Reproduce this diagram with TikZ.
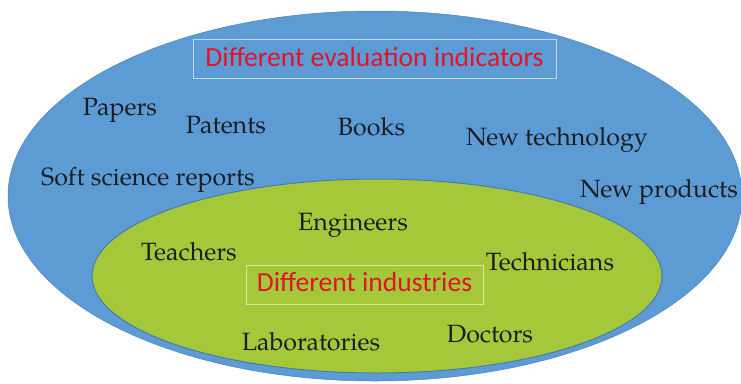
\documentclass[tikz,border=0pt]{standalone}
\usepackage{fontspec}
\setmainfont{TeX Gyre Pagella}
\newfontfamily\labfont{Carlito}
\definecolor{outerblue}{RGB}{93,155,213}
\definecolor{innergreen}{RGB}{164,200,58}
\definecolor{labred}{RGB}{226,20,40}
\definecolor{txt}{RGB}{25,30,35}
\tikzset{
  item/.style={text=txt, font=\fontsize{25}{27}\selectfont, inner sep=0pt, anchor=base},
  titlebox/.style={draw=white!60!outerblue, line width=1pt, text=labred, font=\labfont\fontsize{27.6}{29}\selectfont, inner xsep=0pt, inner ysep=0pt, anchor=base},
  titlebox2/.style={draw=white!55!innergreen, line width=1pt, text=labred, font=\labfont\fontsize{27.6}{29}\selectfont, inner xsep=0pt, inner ysep=0pt, anchor=base}
}
\begin{document}
\begin{tikzpicture}[x=1pt,y=-1pt]
\useasboundingbox (0,0) rectangle (741,383);
\fill[white] (0,0) rectangle (741,383);
\path[fill=outerblue, draw=outerblue!85!black, line width=0.5pt] (375,196) ellipse [x radius=367, y radius=185];
\path[fill=innergreen, draw=outerblue!80!black, line width=1pt] (377,276) ellipse [x radius=285, y radius=97];
\node[titlebox, minimum width=363pt, text height=27pt, text depth=12pt] (eval) at (374.5,66) {Different evaluation indicators};
\node[titlebox2, minimum width=237pt, text height=26pt, text depth=13pt] (ind) at (364.5,291) {Different industries};
\node[item] (papers) at (120,115) {Papers};
\node[item] (patents) at (226,133) {Patents};
\node[item] (books) at (371.5,135) {Books};
\node[item] (newtech) at (557,145) {New technology};
\node[item] (soft) at (148,185) {Soft science reports};
\node[item] (newprod) at (659,197) {New products};
\node[item] (eng) at (353,230) {Engineers};
\node[item] (teach) at (189,260) {Teachers};
\node[item] (tech) at (550,270) {Technicians};
\node[item] (labs) at (311,350) {Laboratories};
\node[item] (docs) at (490,342) {Doctors};
\end{tikzpicture}
\end{document}
